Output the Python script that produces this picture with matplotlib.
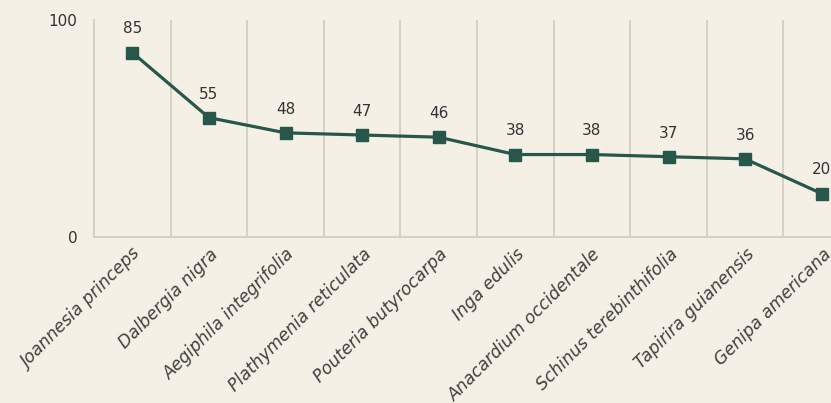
import matplotlib.pyplot as plt

# Species and their values
species = ['Joannesia princeps', 'Dalbergia nigra', 'Aegiphila integrifolia',
           'Plathymenia reticulata', 'Pouteria butyrocarpa', 'Inga edulis',
           'Anacardium occidentale', 'Schinus terebinthifolia',
           'Tapirira guianensis', 'Genipa americana']
values = [85, 55, 48, 47, 46, 38, 38, 37, 36, 20]
y_ticks = [0, 100]

bg = '#f5f0e6'
line_color = '#27564a'
grid_color = '#d3cec2'

fig = plt.figure(figsize=(8.31, 4.03), dpi=100, facecolor=bg)
# plot area runs past the right edge of the figure, like the original
ax = fig.add_axes([94/831, 166/403, 766/831, 217/403])
ax.set_facecolor(bg)

x = range(len(species))
ax.plot(x, values, color=line_color, lw=2.3, marker='s', ms=8.5, zorder=3)

for xi, v in zip(x, values):
    ax.annotate(str(v), (xi, v), xytext=(0, 17), textcoords='offset points',
                ha='center', va='center', fontsize=11, color='#333333')

ax.set_xlim(-0.5, len(species) - 0.5)
ax.set_ylim(0, 100)
ax.set_yticks(y_ticks)
ax.set_yticklabels([str(t) for t in y_ticks], fontsize=11, color='#333333')

# vertical separators between categories
for b in range(1, len(species)):
    ax.axvline(b - 0.5, color=grid_color, lw=1.3, zorder=1)

ax.set_xticks(list(x))
ax.set_xticklabels(species, rotation=45, ha='right', va='top',
                   rotation_mode='anchor', fontsize=12.3, fontstyle='oblique',
                   family='DejaVu Sans', color='#404040')

for s in ['top', 'right']:
    ax.spines[s].set_visible(False)
ax.spines['left'].set_color(grid_color)
ax.spines['bottom'].set_color(grid_color)
ax.spines['left'].set_linewidth(1.3)
ax.spines['bottom'].set_linewidth(1.3)
ax.tick_params(length=0)
ax.tick_params(axis='y', pad=12)
ax.tick_params(axis='x', pad=6)

fig.savefig('out.png', dpi=100, facecolor=bg)
